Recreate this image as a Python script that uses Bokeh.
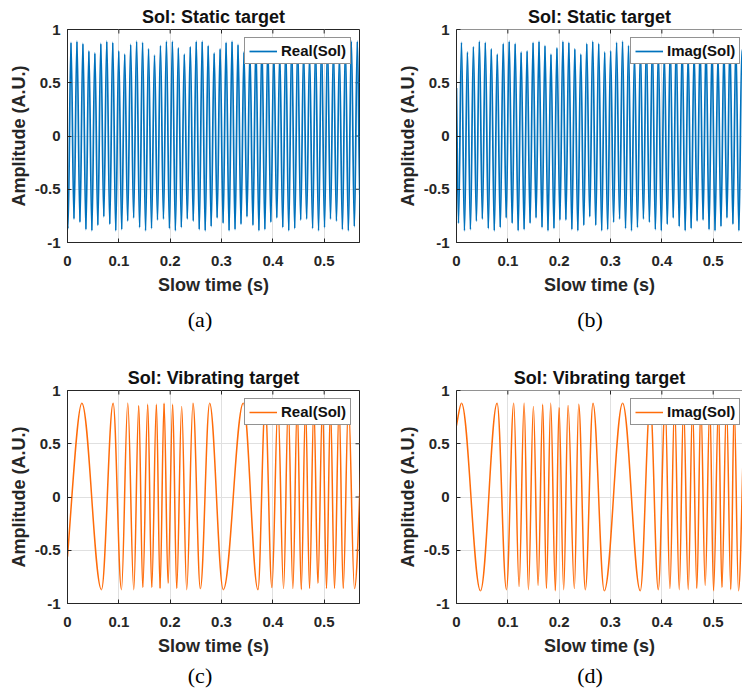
import numpy as np
from bokeh.plotting import figure
from bokeh.models import Range1d, FixedTicker, NumeralTickFormatter, Span, Div
from bokeh.layouts import column, row
from bokeh.embed import file_html
from bokeh.resources import INLINE

# ------------------------------------------------------------------ data
x_ticks = [0, 0.1, 0.2, 0.3, 0.4, 0.5]
y_ticks = [-1, -0.5, 0, 0.5, 1]
x_end_left = 0.5688      # visible slow-time span, left column
x_end_right = 0.5571     # right column is cut by the image edge

titles = ["Sol: Static target", "Sol: Static target",
          "Sol: Vibrating target", "Sol: Vibrating target"]
legend_labels = ["Real(Sol)", "Imag(Sol)", "Real(Sol)", "Imag(Sol)"]
panel_tags = ["(a)", "(b)", "(c)", "(d)"]

# static target: a steady tone; extrema (a) and (b)
static_period = 0.01162
static_real_start = (0.0, -0.85)
static_real_trough0 = 0.0010
static_real_peak0 = 0.0068
static_real_troughs = [-0.87, -0.78, -0.81, -0.88, -0.89, -0.84, -0.76, -0.83, -0.89, -0.88,
                       -0.80, -0.77, -0.86, -0.89, -0.87, -0.79, -0.78, -0.87, -0.89, -0.86,
                       -0.78, -0.80, -0.88, -0.89, -0.85, -0.77, -0.82, -0.89, -0.88, -0.83,
                       -0.76, -0.84, -0.89, -0.88, -0.81, -0.77, -0.86, -0.89, -0.87, -0.79,
                       -0.78, -0.87, -0.89, -0.86, -0.78, -0.80, -0.88, -0.89, -0.85, -0.78]
static_real_peaks = [0.88, 0.89, 0.87, 0.80, 0.78, 0.87, 0.89, 0.88, 0.80, 0.77,
                     0.86, 0.89, 0.88, 0.82, 0.76, 0.85, 0.89, 0.89, 0.83, 0.77,
                     0.84, 0.89, 0.89, 0.85, 0.78, 0.82, 0.88, 0.89, 0.86, 0.79,
                     0.80, 0.88, 0.89, 0.87, 0.80, 0.78, 0.87, 0.89, 0.88, 0.81,
                     0.77, 0.86, 0.89, 0.88, 0.83, 0.77, 0.85, 0.89, 0.89]

static_imag_start = (0.0, 0.45)
static_imag_trough0 = 0.0039
static_imag_peak0 = 0.0097
static_imag_troughs = [-0.82, -0.89, -0.88, -0.80, -0.78, -0.87, -0.89, -0.86, -0.77, -0.82,
                       -0.89, -0.88, -0.82, -0.77, -0.86, -0.89, -0.87, -0.79, -0.79, -0.88,
                       -0.89, -0.84, -0.76, -0.84, -0.89, -0.88, -0.81, -0.78, -0.87, -0.89,
                       -0.86, -0.78, -0.81, -0.88, -0.89, -0.83, -0.77, -0.85, -0.89, -0.87,
                       -0.80, -0.79, -0.88, -0.89, -0.85, -0.77, -0.83, -0.89]
static_imag_peaks = [0.88, 0.79, 0.84, 0.89, 0.88, 0.82, 0.77, 0.87, 0.89, 0.87,
                     0.79, 0.80, 0.88, 0.89, 0.85, 0.77, 0.83, 0.89, 0.88, 0.82,
                     0.77, 0.87, 0.89, 0.87, 0.79, 0.80, 0.88, 0.89, 0.85, 0.77,
                     0.83, 0.89, 0.88, 0.81, 0.78, 0.87, 0.89, 0.86, 0.78, 0.81,
                     0.88, 0.89, 0.84, 0.77, 0.84, 0.89, 0.88, 0.81]

# vibrating target: extremum times (s) and values (c) and (d)
vib_real_start = (0.0, -0.56)
vib_real_t = [0.0279, 0.0662, 0.0889, 0.1051, 0.1174, 0.1291, 0.1388, 0.1466, 0.1563, 0.1641,
              0.1732, 0.1803, 0.1881, 0.1959, 0.2049, 0.2127, 0.2224, 0.2322, 0.2445, 0.2588,
              0.2769, 0.3035, 0.3424, 0.3710, 0.3852, 0.3982, 0.4099, 0.4209, 0.4300, 0.4390,
              0.4475, 0.4553, 0.4637, 0.4715, 0.4799, 0.4877, 0.4968, 0.5045, 0.5123, 0.5201,
              0.5292, 0.5370, 0.5473, 0.5590, 0.5790]
vib_real_v = [0.88, -0.87, 0.88, -0.87, 0.88, -0.87, 0.86, -0.85, 0.87, -0.85,
              0.87, -0.86, 0.88, -0.81, 0.87, -0.86, 0.85, -0.87, 0.88, -0.86,
              0.88, -0.87, 0.88, -0.87, 0.87, -0.85, 0.86, -0.86, 0.87, -0.86,
              0.88, -0.87, 0.86, -0.86, 0.87, -0.81, 0.88, -0.86, 0.86, -0.86,
              0.87, -0.86, 0.88, -0.86, 0.88]

vib_imag_start = (0.0, 0.67)
vib_imag_t = [0.0097, 0.0467, 0.0791, 0.0973, 0.1115, 0.1219, 0.1317, 0.1401, 0.1498, 0.1589,
              0.1680, 0.1751, 0.1835, 0.1926, 0.1997, 0.2088, 0.2173, 0.2296, 0.2380, 0.2510,
              0.2659, 0.2879, 0.3236, 0.3580, 0.3774, 0.3930, 0.4066, 0.4157, 0.4248, 0.4339,
              0.4423, 0.4514, 0.4598, 0.4682, 0.4760, 0.4844, 0.4935, 0.5007, 0.5104, 0.5169,
              0.5259, 0.5344, 0.5409, 0.5493, 0.5630]
vib_imag_v = [0.88, -0.88, 0.88, -0.87, 0.88, -0.84, 0.88, -0.87, 0.85, -0.83,
              0.87, -0.86, 0.88, -0.88, 0.84, -0.87, 0.86, -0.86, 0.87, -0.87,
              0.88, -0.88, 0.88, -0.88, 0.88, -0.87, 0.87, -0.86, 0.88, -0.87,
              0.87, -0.87, 0.86, -0.86, 0.88, -0.83, 0.87, -0.88, 0.87, -0.85,
              0.88, -0.87, 0.86, -0.88, 0.88]

# ------------------------------------------------------------------ style
FONT = "Liberation Sans"
SERIF = "Liberation Serif"
INK = "#262626"
GRID = "#e0e0e0"
BLUE = "#0072BD"
ORANGE = "#FF6C0A"
TICK_PX = 4
K = 1 - 2 / np.pi   # control-point fraction for smooth half-cycles


def uniform_extrema(t_trough0, t_peak0, period, troughs, peaks):
    pts = [(t_trough0 + i * period, v) for i, v in enumerate(troughs)]
    pts += [(t_peak0 + i * period, v) for i, v in enumerate(peaks)]
    pts.sort()
    return [p[0] for p in pts], [p[1] for p in pts]


def bezier_source(ts, vs, start):
    d = dict(x0=[], y0=[], x1=[], y1=[], cx0=[], cy0=[], cx1=[], cy1=[])

    def add(a, b, c, e, f, g, h, i):
        d["x0"].append(a); d["y0"].append(b); d["x1"].append(c); d["y1"].append(e)
        d["cx0"].append(f); d["cy0"].append(g); d["cx1"].append(h); d["cy1"].append(i)

    st, sv = start
    dt = ts[0] - st
    add(st, sv, ts[0], vs[0], st + dt / 3, sv + (vs[0] - sv) * 0.4, ts[0] - 0.3 * dt, vs[0])
    for i in range(len(ts) - 1):
        dt = ts[i + 1] - ts[i]
        add(ts[i], vs[i], ts[i + 1], vs[i + 1], ts[i] + K * dt, vs[i], ts[i + 1] - K * dt, vs[i + 1])
    return d


def style_axis(ax, ticks, standoff):
    ax.ticker = FixedTicker(ticks=ticks)
    ax.formatter = NumeralTickFormatter(format="0.[0]")
    ax.major_tick_in = TICK_PX
    ax.major_tick_out = 0
    ax.minor_tick_line_color = None
    ax.axis_line_color = INK
    ax.axis_line_width = 1
    ax.major_tick_line_color = INK
    ax.major_label_text_font = FONT
    ax.major_label_text_font_style = "bold"
    ax.major_label_text_font_size = "15px"
    ax.major_label_text_color = INK
    ax.major_label_standoff = standoff
    ax.axis_label_text_font = FONT
    ax.axis_label_text_font_style = "bold"
    ax.axis_label_text_font_size = "18px"
    ax.axis_label_text_color = INK


def panel(title, x_end, ts, vs, start, color, width_line, label, legend_x,
          width, height, bl, br, bt, bb, boxed):
    p = figure(width=width, height=height,
               x_range=Range1d(0, x_end), y_range=Range1d(-1, 1),
               output_backend="svg", toolbar_location=None,
               min_border_left=bl, min_border_right=br,
               min_border_top=bt, min_border_bottom=bb,
               outline_line_color=INK if boxed else None,
               outline_line_width=1,
               background_fill_color="white", border_fill_color="white")
    p.title.text = title
    p.title.align = "center"
    p.title.text_font = FONT
    p.title.text_font_style = "bold"
    p.title.text_font_size = "18px"
    p.title.text_color = "#111111"
    p.title.standoff = 6

    style_axis(p.xaxis[0], x_ticks, 13)
    style_axis(p.yaxis[0], y_ticks, 7)
    p.xaxis[0].axis_label = "Slow time (s)"
    p.xaxis[0].axis_label_standoff = 6
    p.yaxis[0].axis_label = "Amplitude (A.U.)"
    p.yaxis[0].axis_label_standoff = 3

    # inward ticks on the top (and right) edge of the box
    fw = width - bl - br
    fh = height - bt - bb
    y0, y1 = p.y_range.start, p.y_range.end
    x0, x1 = p.x_range.start, p.x_range.end
    dy = TICK_PX / fh * (y1 - y0)
    dx = TICK_PX / fw * (x1 - x0)
    p.segment(x0=x_ticks, y0=[y1] * len(x_ticks), x1=x_ticks, y1=[y1 - dy] * len(x_ticks),
              line_color=INK, line_width=1)
    if boxed:
        p.segment(x0=[x1] * len(y_ticks), y0=y_ticks, x1=[x1 - dx] * len(y_ticks), y1=y_ticks,
                  line_color=INK, line_width=1)
    else:
        # top edge of the box; the right edge lies outside the cropped picture
        p.add_layout(Span(location=y1, dimension="width", line_color=INK, line_width=1))

    p.xgrid.ticker = FixedTicker(ticks=x_ticks)
    p.ygrid.ticker = FixedTicker(ticks=y_ticks)
    p.xgrid.grid_line_color = GRID
    p.ygrid.grid_line_color = GRID

    src = bezier_source(ts, vs, start)
    p.bezier(x0="x0", y0="y0", x1="x1", y1="y1", cx0="cx0", cy0="cy0",
             cx1="cx1", cy1="cy1", source=src, line_color=color,
             line_width=width_line, legend_label=label)

    lg = p.legend[0]
    lg.location = (legend_x, 178)
    lg.label_text_font = FONT
    lg.label_text_font_style = "bold"
    lg.label_text_font_size = "15px"
    lg.label_text_color = "#111111"
    lg.border_line_color = INK
    lg.border_line_width = 1
    lg.background_fill_color = "white"
    lg.background_fill_alpha = 1
    lg.padding = 4
    lg.margin = 0
    lg.spacing = 0
    lg.glyph_width = 28
    lg.glyph_height = 16
    lg.label_standoff = 4
    lg.label_height = 16
    return p


ra_t, ra_v = uniform_extrema(static_real_trough0, static_real_peak0, static_period,
                             static_real_troughs, static_real_peaks)
ia_t, ia_v = uniform_extrema(static_imag_trough0, static_imag_peak0, static_period,
                             static_imag_troughs, static_imag_peaks)

pa = panel(titles[0], x_end_left, ra_t, ra_v, static_real_start, BLUE, 1.7, legend_labels[0], 177,
           371, 306, 67, 12, 29, 64, True)
pb = panel(titles[1], x_end_right, ia_t, ia_v, static_imag_start, BLUE, 1.7, legend_labels[1], 174,
           371, 306, 85, 0, 29, 64, False)
pc = panel(titles[2], x_end_left, vib_real_t, vib_real_v, vib_real_start, ORANGE, 1.5, legend_labels[2], 177,
           371, 318, 67, 12, 45, 60, True)
pd = panel(titles[3], x_end_right, vib_imag_t, vib_imag_v, vib_imag_start, ORANGE, 1.5, legend_labels[3], 174,
           371, 318, 85, 0, 45, 60, False)


def tag_row(left_tag, right_tag, h, top):
    html = (f'<div style="position:relative;width:742px;height:{h}px;'
            f'font-family:\'{SERIF}\';font-size:22px;line-height:25px;color:#000;">'
            f'<span style="position:absolute;left:200px;top:{top}px;transform:translateX(-50%);">{left_tag}</span>'
            f'<span style="position:absolute;left:590px;top:{top}px;transform:translateX(-50%);">{right_tag}</span>'
            '</div>')
    return Div(text=html, width=742, height=h, margin=(0, 0, 0, 0))


layout = column(row(pa, pb), tag_row(panel_tags[0], panel_tags[1], 39, 1),
                row(pc, pd), tag_row(panel_tags[2], panel_tags[3], 26, 0))

open("out.html", "w").write(file_html(layout, INLINE))
